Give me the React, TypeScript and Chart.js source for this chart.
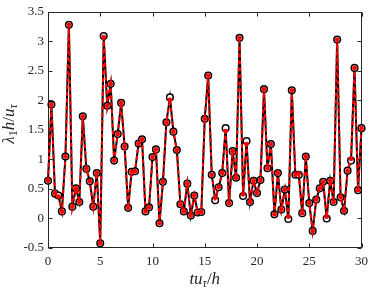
import React, { useEffect, useRef } from "react";
import { Chart, registerables } from "chart.js";

Chart.register(...registerables);

const times: number[] = [
  0, 0.33, 0.67, 1, 1.33, 1.67, 2, 2.33, 2.67, 3,
  3.33, 3.67, 4, 4.33, 4.67, 5, 5.33, 5.67, 6, 6.33,
  6.67, 7, 7.33, 7.67, 8, 8.33, 8.67, 9, 9.33, 9.67,
  10, 10.33, 10.67, 11, 11.33, 11.67, 12, 12.33, 12.67, 13,
  13.33, 13.67, 14, 14.33, 14.67, 15, 15.33, 15.67, 16, 16.33,
  16.67, 17, 17.33, 17.67, 18, 18.33, 18.67, 19, 19.33, 19.67,
  20, 20.33, 20.67, 21, 21.33, 21.67, 22, 22.33, 22.67, 23,
  23.33, 23.67, 24, 24.33, 24.67, 25, 25.33, 25.67, 26, 26.33,
  26.67, 27, 27.33, 27.67, 28, 28.33, 28.67, 29, 29.33, 29.67,
  30,
];

const blackSeries: number[] = [
  0.64, 1.93, 0.42, 0.39, 0.12, 1.05, 3.28, 0.2, 0.51, 0.28,
  1.73, 0.84, 0.63, 0.2, 0.77, -0.42, 3.09, 1.91, 2.28, 0.98,
  1.43, 1.96, 1.22, 0.18, 0.79, 0.8, 1.27, 1.34, 0.12, 0.19,
  1.04, 1.17, -0.08, 0.62, 1.63, 2.05, 1.47, 1.16, 0.24, 0.12,
  0.59, 0.05, 0.39, 0.1, 0.11, 1.69, 2.42, 0.74, 0.31, 0.53,
  0.77, 1.53, 0.26, 1.14, 0.69, 3.06, 0.38, 1.31, 0.28, 0.64,
  0.43, 0.65, 2.19, 0.85, 1.26, 0.07, 0.77, 0.15, 0.49, -0.01,
  2.17, 0.74, 0.74, 0.09, 1.05, 0.26, -0.21, 0.32, 0.51, 0.62,
  0.0, 0.64, 0.28, 3.03, 0.36, 0.13, 0.81, 0.98, 2.55, 0.48,
  1.53,
];

const redSeries: number[] = [
  0.64, 1.93, 0.42, 0.37, 0.12, 1.05, 3.28, 0.2, 0.51, 0.28,
  1.73, 0.84, 0.63, 0.2, 0.77, -0.42, 3.07, 1.91, 2.28, 0.98,
  1.43, 1.96, 1.22, 0.18, 0.79, 0.8, 1.27, 1.34, 0.12, 0.19,
  1.04, 1.17, -0.08, 0.62, 1.63, 2.01, 1.47, 1.16, 0.24, 0.12,
  0.59, 0.05, 0.39, 0.1, 0.11, 1.69, 2.42, 0.74, 0.35, 0.53,
  0.77, 1.48, 0.26, 1.14, 0.69, 3.06, 0.41, 1.26, 0.28, 0.64,
  0.43, 0.65, 2.19, 0.85, 1.26, 0.07, 0.77, 0.15, 0.49, 0.03,
  2.17, 0.74, 0.76, 0.09, 1.05, 0.26, -0.21, 0.32, 0.51, 0.62,
  0.03, 0.64, 0.28, 3.03, 0.36, 0.13, 0.81, 1.01, 2.55, 0.48,
  1.53,
];

const xTickValues: number[] = [0, 5, 10, 15, 20, 25, 30];
const yTickValues: number[] = [-0.5, 0, 0.5, 1, 1.5, 2, 2.5, 3, 3.5];

const AXIS_COLOR = "#262626";
const SERIF = '"Liberation Serif", "Times New Roman", serif';

type Piece = { text: string; font: string; dy: number };

function drawPieces(ctx: CanvasRenderingContext2D, pieces: Piece[], cx: number, cy: number) {
  let total = 0;
  const widths: number[] = [];
  for (const p of pieces) {
    ctx.font = p.font;
    const w = ctx.measureText(p.text).width;
    widths.push(w);
    total += w;
  }
  let x = cx - total / 2;
  pieces.forEach((p, i) => {
    ctx.font = p.font;
    ctx.fillText(p.text, x, cy + p.dy);
    x += widths[i];
  });
}

const framePlugin = {
  id: "frame",
  beforeDatasetsDraw(chart: any) {
    const { ctx, chartArea: a, scales } = chart;
    const l = Math.round(a.left) + 0.5;
    const r = Math.round(a.right) - 0.5;
    const t = Math.round(a.top) + 0.5;
    const b = Math.round(a.bottom) - 0.5;
    ctx.save();
    ctx.strokeStyle = AXIS_COLOR;
    ctx.lineWidth = 1;
    ctx.strokeRect(l, t, r - l, b - t);
    const tl = 4;
    ctx.beginPath();
    for (const v of xTickValues) {
      const px = Math.round(scales.x.getPixelForValue(v)) + 0.5;
      ctx.moveTo(px, b);
      ctx.lineTo(px, b - tl);
      ctx.moveTo(px, t);
      ctx.lineTo(px, t + tl);
    }
    for (const v of yTickValues) {
      const py = Math.round(scales.y.getPixelForValue(v)) + 0.5;
      ctx.moveTo(l, py);
      ctx.lineTo(l + tl, py);
      ctx.moveTo(r, py);
      ctx.lineTo(r - tl, py);
    }
    ctx.stroke();
    ctx.restore();
  },
  afterDraw(chart: any) {
    const { ctx, chartArea: a } = chart;
    ctx.save();
    ctx.fillStyle = AXIS_COLOR;
    ctx.textBaseline = "alphabetic";
    ctx.textAlign = "left";
    const big = `italic 17px ${SERIF}`;
    const bigUp = `17px ${SERIF}`;
    const sub = `italic 12px ${SERIF}`;
    const subUp = `12px ${SERIF}`;
    // x label
    drawPieces(
      ctx,
      [
        { text: "t", font: big, dy: 0 },
        { text: "u", font: big, dy: 0 },
        { text: "τ", font: sub, dy: 3 },
        { text: "/", font: bigUp, dy: 0 },
        { text: "h", font: big, dy: 0 },
      ],
      (a.left + a.right) / 2,
      284
    );
    // y label
    ctx.translate(14, 124);
    ctx.rotate(-Math.PI / 2);
    drawPieces(
      ctx,
      [
        { text: "λ", font: big, dy: 0 },
        { text: "1", font: subUp, dy: 3 },
        { text: "h", font: big, dy: 0 },
        { text: "/", font: bigUp, dy: 0 },
        { text: "u", font: big, dy: 0 },
        { text: "τ", font: sub, dy: 3 },
      ],
      0,
      0
    );
    ctx.restore();
  },
};

export default function App() {
  const canvasRef = useRef<HTMLCanvasElement | null>(null);

  useEffect(() => {
    document.body.style.margin = "0";
    const canvas = canvasRef.current;
    if (!canvas) return;
    const blackData = times.map((t, i) => ({ x: t, y: blackSeries[i] }));
    const redData = times.map((t, i) => ({ x: t, y: redSeries[i] }));
    const chart = new Chart(canvas, {
      type: "scatter",
      data: {
        datasets: [
          {
            label: "red",
            data: redData,
            showLine: true,
            borderColor: "#ff0000",
            borderWidth: 2,
            borderDash: [4, 3],
            pointRadius: 2.4,
            pointBackgroundColor: "#ff0000",
            pointBorderWidth: 0,
            pointBorderColor: "#ff0000",
            order: 0,
            clip: false as any,
          },
          {
            label: "black",
            data: blackData,
            showLine: true,
            borderColor: "#000000",
            borderWidth: 2,
            pointRadius: 3.3,
            pointBackgroundColor: "#ffffff",
            pointBorderColor: "#000000",
            pointBorderWidth: 1.5,
            order: 1,
            clip: false as any,
          },
        ],
      },
      options: {
        animation: false,
        responsive: false,
        devicePixelRatio: 1,
        layout: { autoPadding: false, padding: { top: 5, right: 7, left: 0, bottom: 0 } } as any,
        plugins: {
          legend: { display: false },
          tooltip: { enabled: false },
        },
        scales: {
          x: {
            type: "linear",
            min: 0,
            max: 30,
            afterFit: (s: any) => {
              s.height = 41;
            },
            afterBuildTicks: (s: any) => {
              s.ticks = xTickValues.map((v) => ({ value: v }));
            },
            grid: { display: false, drawTicks: false },
            border: { display: false },
            ticks: {
              color: AXIS_COLOR,
              font: { family: SERIF, size: 13 },
              padding: 6,
              maxRotation: 0,
              callback: (v: any) => String(v),
            },
          },
          y: {
            type: "linear",
            min: -0.5,
            max: 3.5,
            afterFit: (s: any) => {
              s.width = 48;
            },
            afterBuildTicks: (s: any) => {
              s.ticks = yTickValues.map((v) => ({ value: v }));
            },
            grid: { display: false, drawTicks: false },
            border: { display: false },
            ticks: {
              color: AXIS_COLOR,
              font: { family: SERIF, size: 13 },
              padding: 4,
              callback: (v: any) => String(v),
            },
          },
        },
      },
      plugins: [framePlugin],
    });
    return () => chart.destroy();
  }, []);

  return (
    <div style={{ width: 374, height: 289 }}>
      <canvas ref={canvasRef} width={374} height={289} style={{ display: "block", width: 374, height: 289 }} />
    </div>
  );
}
